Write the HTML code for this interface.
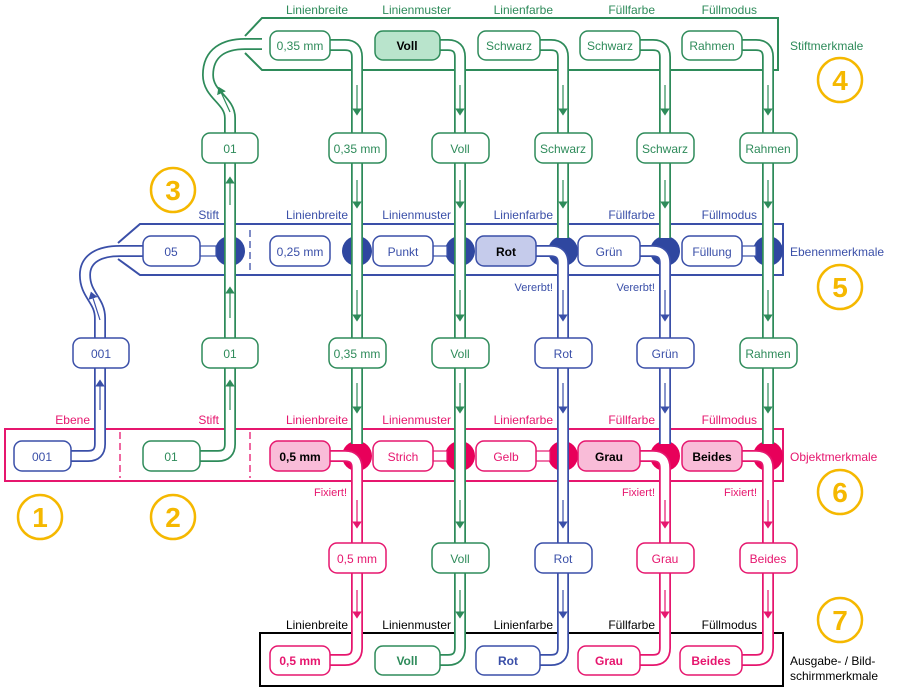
<!DOCTYPE html>
<html><head><meta charset="utf-8"><style>
html,body{margin:0;padding:0;background:#fff}
svg{display:block;font-family:"Liberation Sans",sans-serif;font-size:12px}
</style></head><body>
<svg width="898" height="690" viewBox="0 0 898 690" xmlns="http://www.w3.org/2000/svg">
<defs>
<marker id="ag" viewBox="0 0 6 8" refX="3" refY="4" markerWidth="6" markerHeight="8" orient="auto"><path d="M0,0 L6,4 L0,8z" fill="#2e8b5a"/></marker>
<marker id="ab" viewBox="0 0 6 8" refX="3" refY="4" markerWidth="6" markerHeight="8" orient="auto"><path d="M0,0 L6,4 L0,8z" fill="#3a4fa8"/></marker>
<marker id="ap" viewBox="0 0 6 8" refX="3" refY="4" markerWidth="6" markerHeight="8" orient="auto"><path d="M0,0 L6,4 L0,8z" fill="#e6166e"/></marker>
</defs>

<path d="M245,36 L262,18 H778 V70 H262 L245,53" fill="none" stroke="#2e8b5a" stroke-width="2"/>
<path d="M118,243 L140,224 H783 V275 H140 L118,259" fill="none" stroke="#3a4fa8" stroke-width="2"/>
<line x1="250" y1="230" x2="250" y2="270" stroke="#3a4fa8" stroke-width="1.3" stroke-dasharray="7,4"/>
<rect x="5" y="429" width="778" height="52" fill="none" stroke="#e6166e" stroke-width="2"/>
<line x1="120" y1="432" x2="120" y2="478" stroke="#e6166e" stroke-width="1.3" stroke-dasharray="7,4"/>
<line x1="250" y1="432" x2="250" y2="478" stroke="#e6166e" stroke-width="1.3" stroke-dasharray="7,4"/>
<rect x="260" y="633" width="523" height="53" fill="none" stroke="#000" stroke-width="2"/>

<g fill="#2f47a0">
<circle cx="230" cy="251" r="15"/><circle cx="357" cy="251" r="15"/><circle cx="460" cy="251" r="15"/>
<circle cx="563" cy="251" r="15"/><circle cx="665" cy="251" r="15"/><circle cx="768" cy="251" r="15"/>
</g>
<g fill="#e8005a">
<circle cx="357" cy="456" r="15"/><circle cx="460" cy="456" r="15"/><circle cx="563" cy="456" r="15"/>
<circle cx="665" cy="456" r="15"/><circle cx="768" cy="456" r="15"/>
</g>
<g fill="#fff" stroke="#3a4fa8" stroke-width="1.2">
<rect x="200" y="246" width="16" height="10"/><rect x="433" y="246" width="14" height="10"/><rect x="742" y="246" width="14" height="10"/>
</g>
<g fill="#fff" stroke="#e6166e" stroke-width="1.2">
<rect x="433" y="451" width="14" height="10"/><rect x="536" y="451" width="14" height="10"/>
</g>

<g fill="none" stroke-width="12" stroke="#2e8b5a">
<path d="M330,45 H345 Q357,45 357,57 V444"/>
<path d="M440,45 H448 Q460,45 460,57 V648 Q460,660 448,660 H440"/>
<path d="M540,45 H551 Q563,45 563,57 V238"/>
<path d="M640,45 H653 Q665,45 665,57 V238"/>
<path d="M742,45 H756 Q768,45 768,57 V444"/>
<path d="M200,456 H218 Q230,456 230,444 V118 C230,100 208,95 208,75 C208,52 225,44 245,44 H262"/>
</g>
<g fill="none" stroke-width="12" stroke="#3a4fa8">
<path d="M536,251 H551 Q563,251 563,263 V648 Q563,660 551,660 H540"/>
<path d="M640,251 H653 Q665,251 665,263 V444"/>
<path d="M70,456 H88 Q100,456 100,444 V318 C100,300 85,295 85,275 C85,258 100,251 120,251 H145"/>
</g>
<g fill="none" stroke-width="12" stroke="#e6166e">
<path d="M330,456 H345 Q357,456 357,468 V648 Q357,660 345,660 H330"/>
<path d="M640,456 H653 Q665,456 665,468 V648 Q665,660 653,660 H640"/>
<path d="M742,456 H756 Q768,456 768,468 V648 Q768,660 756,660 H742"/>
</g>
<g fill="none" stroke-width="8.5" stroke="#fff">
<path d="M330,45 H345 Q357,45 357,57 V444"/>
<path d="M440,45 H448 Q460,45 460,57 V648 Q460,660 448,660 H440"/>
<path d="M540,45 H551 Q563,45 563,57 V238"/>
<path d="M640,45 H653 Q665,45 665,57 V238"/>
<path d="M742,45 H756 Q768,45 768,57 V444"/>
<path d="M200,456 H218 Q230,456 230,444 V118 C230,100 208,95 208,75 C208,52 225,44 245,44 H264"/>
<path d="M536,251 H551 Q563,251 563,263 V648 Q563,660 551,660 H540"/>
<path d="M640,251 H653 Q665,251 665,263 V444"/>
<path d="M70,456 H88 Q100,456 100,444 V318 C100,300 85,295 85,275 C85,258 100,251 120,251 H145"/>
<path d="M330,456 H345 Q357,456 357,468 V648 Q357,660 345,660 H330"/>
<path d="M640,456 H653 Q665,456 665,468 V648 Q665,660 653,660 H640"/>
<path d="M742,456 H756 Q768,456 768,468 V648 Q768,660 756,660 H742"/>
</g>

<g stroke="#2e8b5a" stroke-width="1.2" marker-end="url(#ag)">
<line x1="357" y1="85" x2="357" y2="112"/><line x1="460" y1="85" x2="460" y2="112"/><line x1="563" y1="85" x2="563" y2="112"/><line x1="665" y1="85" x2="665" y2="112"/><line x1="768" y1="85" x2="768" y2="112"/>
<line x1="357" y1="180" x2="357" y2="205"/><line x1="460" y1="180" x2="460" y2="205"/><line x1="563" y1="180" x2="563" y2="205"/><line x1="665" y1="180" x2="665" y2="205"/><line x1="768" y1="180" x2="768" y2="205"/>
<line x1="357" y1="290" x2="357" y2="318"/><line x1="460" y1="290" x2="460" y2="318"/><line x1="768" y1="290" x2="768" y2="318"/>
<line x1="357" y1="383" x2="357" y2="410"/><line x1="460" y1="383" x2="460" y2="410"/><line x1="768" y1="383" x2="768" y2="410"/>
<line x1="460" y1="500" x2="460" y2="525"/><line x1="460" y1="590" x2="460" y2="615"/>
<line x1="230" y1="410" x2="230" y2="383"/><line x1="230" y1="318" x2="230" y2="290"/><line x1="230" y1="205" x2="230" y2="180"/><line x1="230" y1="112" x2="220" y2="90"/>
</g>
<g stroke="#3a4fa8" stroke-width="1.2" marker-end="url(#ab)">
<line x1="563" y1="290" x2="563" y2="318"/><line x1="665" y1="290" x2="665" y2="318"/>
<line x1="563" y1="383" x2="563" y2="410"/><line x1="665" y1="383" x2="665" y2="410"/>
<line x1="563" y1="500" x2="563" y2="525"/><line x1="563" y1="590" x2="563" y2="615"/>
<line x1="100" y1="410" x2="100" y2="383"/><line x1="100" y1="320" x2="92" y2="295"/>
</g>
<g stroke="#e6166e" stroke-width="1.2" marker-end="url(#ap)">
<line x1="357" y1="500" x2="357" y2="525"/><line x1="665" y1="500" x2="665" y2="525"/><line x1="768" y1="500" x2="768" y2="525"/>
<line x1="357" y1="590" x2="357" y2="615"/><line x1="665" y1="590" x2="665" y2="615"/><line x1="768" y1="590" x2="768" y2="615"/>
</g>

<g stroke-width="1.5">
<g stroke="#2e8b5a" fill="#fff">
<rect x="270" y="31" width="60" height="29" rx="8"/>
<rect x="375" y="31" width="65" height="29" rx="8" fill="#b9e4cc"/>
<rect x="478" y="31" width="62" height="29" rx="8"/>
<rect x="580" y="31" width="60" height="29" rx="8"/>
<rect x="682" y="31" width="60" height="29" rx="8"/>
<rect x="202" y="133" width="56" height="30" rx="8"/>
<rect x="329" y="133" width="57" height="30" rx="8"/>
<rect x="432" y="133" width="57" height="30" rx="8"/>
<rect x="535" y="133" width="57" height="30" rx="8"/>
<rect x="637" y="133" width="57" height="30" rx="8"/>
<rect x="740" y="133" width="57" height="30" rx="8"/>
<rect x="202" y="338" width="56" height="30" rx="8"/>
<rect x="329" y="338" width="57" height="30" rx="8"/>
<rect x="432" y="338" width="57" height="30" rx="8"/>
<rect x="740" y="338" width="57" height="30" rx="8"/>
<rect x="432" y="543" width="57" height="30" rx="8"/>
<rect x="143" y="441" width="57" height="30" rx="8"/>
<rect x="375" y="646" width="65" height="29" rx="8"/>
</g>
<g stroke="#3a4fa8" fill="#fff">
<rect x="143" y="236" width="57" height="30" rx="8"/>
<rect x="270" y="236" width="60" height="30" rx="8"/>
<rect x="373" y="236" width="60" height="30" rx="8"/>
<rect x="476" y="236" width="60" height="30" rx="8" fill="#c5cbeb"/>
<rect x="578" y="236" width="62" height="30" rx="8"/>
<rect x="682" y="236" width="60" height="30" rx="8"/>
<rect x="73" y="338" width="56" height="30" rx="8"/>
<rect x="535" y="338" width="57" height="30" rx="8"/>
<rect x="637" y="338" width="57" height="30" rx="8"/>
<rect x="535" y="543" width="57" height="30" rx="8"/>
<rect x="14" y="441" width="57" height="30" rx="8"/>
<rect x="476" y="646" width="64" height="29" rx="8"/>
</g>
<g stroke="#e6166e" fill="#fff">
<rect x="270" y="441" width="60" height="30" rx="8" fill="#f9bcd8"/>
<rect x="373" y="441" width="60" height="30" rx="8"/>
<rect x="476" y="441" width="60" height="30" rx="8"/>
<rect x="578" y="441" width="62" height="30" rx="8" fill="#f9bcd8"/>
<rect x="682" y="441" width="60" height="30" rx="8" fill="#f9bcd8"/>
<rect x="329" y="543" width="57" height="30" rx="8"/>
<rect x="637" y="543" width="57" height="30" rx="8"/>
<rect x="740" y="543" width="57" height="30" rx="8"/>
<rect x="270" y="646" width="60" height="29" rx="8"/>
<rect x="578" y="646" width="62" height="29" rx="8"/>
<rect x="680" y="646" width="62" height="29" rx="8"/>
</g>
</g>

<g text-anchor="middle" font-size="12">
<g fill="#2e8b5a">
<text x="300" y="50">0,35 mm</text><text x="407" y="50" fill="#000" font-weight="bold">Voll</text><text x="509" y="50">Schwarz</text><text x="610" y="50">Schwarz</text><text x="712" y="50">Rahmen</text>
<text x="230" y="153">01</text><text x="357" y="153">0,35 mm</text><text x="460" y="153">Voll</text><text x="563" y="153">Schwarz</text><text x="665" y="153">Schwarz</text><text x="768" y="153">Rahmen</text>
<text x="230" y="358">01</text><text x="357" y="358">0,35 mm</text><text x="460" y="358">Voll</text><text x="768" y="358">Rahmen</text>
<text x="460" y="563">Voll</text><text x="171" y="461">01</text>
<text x="407" y="665" font-weight="bold">Voll</text>
</g>
<g fill="#3a4fa8">
<text x="171" y="256">05</text><text x="300" y="256">0,25 mm</text><text x="403" y="256">Punkt</text><text x="506" y="256" fill="#000" font-weight="bold">Rot</text><text x="609" y="256">Grün</text><text x="712" y="256">Füllung</text>
<text x="101" y="358">001</text><text x="563" y="358">Rot</text><text x="665" y="358">Grün</text><text x="563" y="563">Rot</text><text x="42" y="461">001</text>
<text x="508" y="665" font-weight="bold">Rot</text>
</g>
<g fill="#e6166e">
<text x="300" y="461" fill="#000" font-weight="bold">0,5 mm</text><text x="403" y="461">Strich</text><text x="506" y="461">Gelb</text><text x="609" y="461" fill="#000" font-weight="bold">Grau</text><text x="712" y="461" fill="#000" font-weight="bold">Beides</text>
<text x="357" y="563">0,5 mm</text><text x="665" y="563">Grau</text><text x="768" y="563">Beides</text>
<text x="300" y="665" font-weight="bold">0,5 mm</text><text x="609" y="665" font-weight="bold">Grau</text><text x="711" y="665" font-weight="bold">Beides</text>
</g>
</g>

<g text-anchor="end" font-size="12">
<g fill="#2e8b5a"><text x="348" y="14">Linienbreite</text><text x="451" y="14">Linienmuster</text><text x="553" y="14">Linienfarbe</text><text x="655" y="14">Füllfarbe</text><text x="757" y="14">Füllmodus</text></g>
<g fill="#3a4fa8"><text x="219" y="219">Stift</text><text x="348" y="219">Linienbreite</text><text x="451" y="219">Linienmuster</text><text x="553" y="219">Linienfarbe</text><text x="655" y="219">Füllfarbe</text><text x="757" y="219">Füllmodus</text>
<text x="553" y="291" font-size="11">Vererbt!</text><text x="655" y="291" font-size="11">Vererbt!</text></g>
<g fill="#e6166e"><text x="90" y="424">Ebene</text><text x="219" y="424">Stift</text><text x="348" y="424">Linienbreite</text><text x="451" y="424">Linienmuster</text><text x="553" y="424">Linienfarbe</text><text x="655" y="424">Füllfarbe</text><text x="757" y="424">Füllmodus</text>
<text x="347" y="496" font-size="11">Fixiert!</text><text x="655" y="496" font-size="11">Fixiert!</text><text x="757" y="496" font-size="11">Fixiert!</text></g>
<g fill="#000"><text x="348" y="629">Linienbreite</text><text x="451" y="629">Linienmuster</text><text x="553" y="629">Linienfarbe</text><text x="655" y="629">Füllfarbe</text><text x="757" y="629">Füllmodus</text></g>
</g>

<g font-size="12">
<text x="790" y="50" fill="#2e8b5a">Stiftmerkmale</text>
<text x="790" y="256" fill="#3a4fa8">Ebenenmerkmale</text>
<text x="790" y="461" fill="#e6166e">Objektmerkmale</text>
<text x="790" y="665" fill="#000">Ausgabe- / Bild-</text>
<text x="790" y="680" fill="#000">schirmmerkmale</text>
</g>

<g fill="none" stroke="#f5b800" stroke-width="2.5">
<circle cx="40" cy="517" r="22"/><circle cx="173" cy="517" r="22"/><circle cx="173" cy="190" r="22"/>
<circle cx="840" cy="80" r="22"/><circle cx="840" cy="287" r="22"/><circle cx="840" cy="492" r="22"/><circle cx="840" cy="620" r="22"/>
</g>
<g fill="#f5b800" font-size="28" font-weight="bold" text-anchor="middle">
<text x="40" y="527">1</text><text x="173" y="527">2</text><text x="173" y="200">3</text>
<text x="840" y="90">4</text><text x="840" y="297">5</text><text x="840" y="502">6</text><text x="840" y="630">7</text>
</g>
</svg>
</body></html>
